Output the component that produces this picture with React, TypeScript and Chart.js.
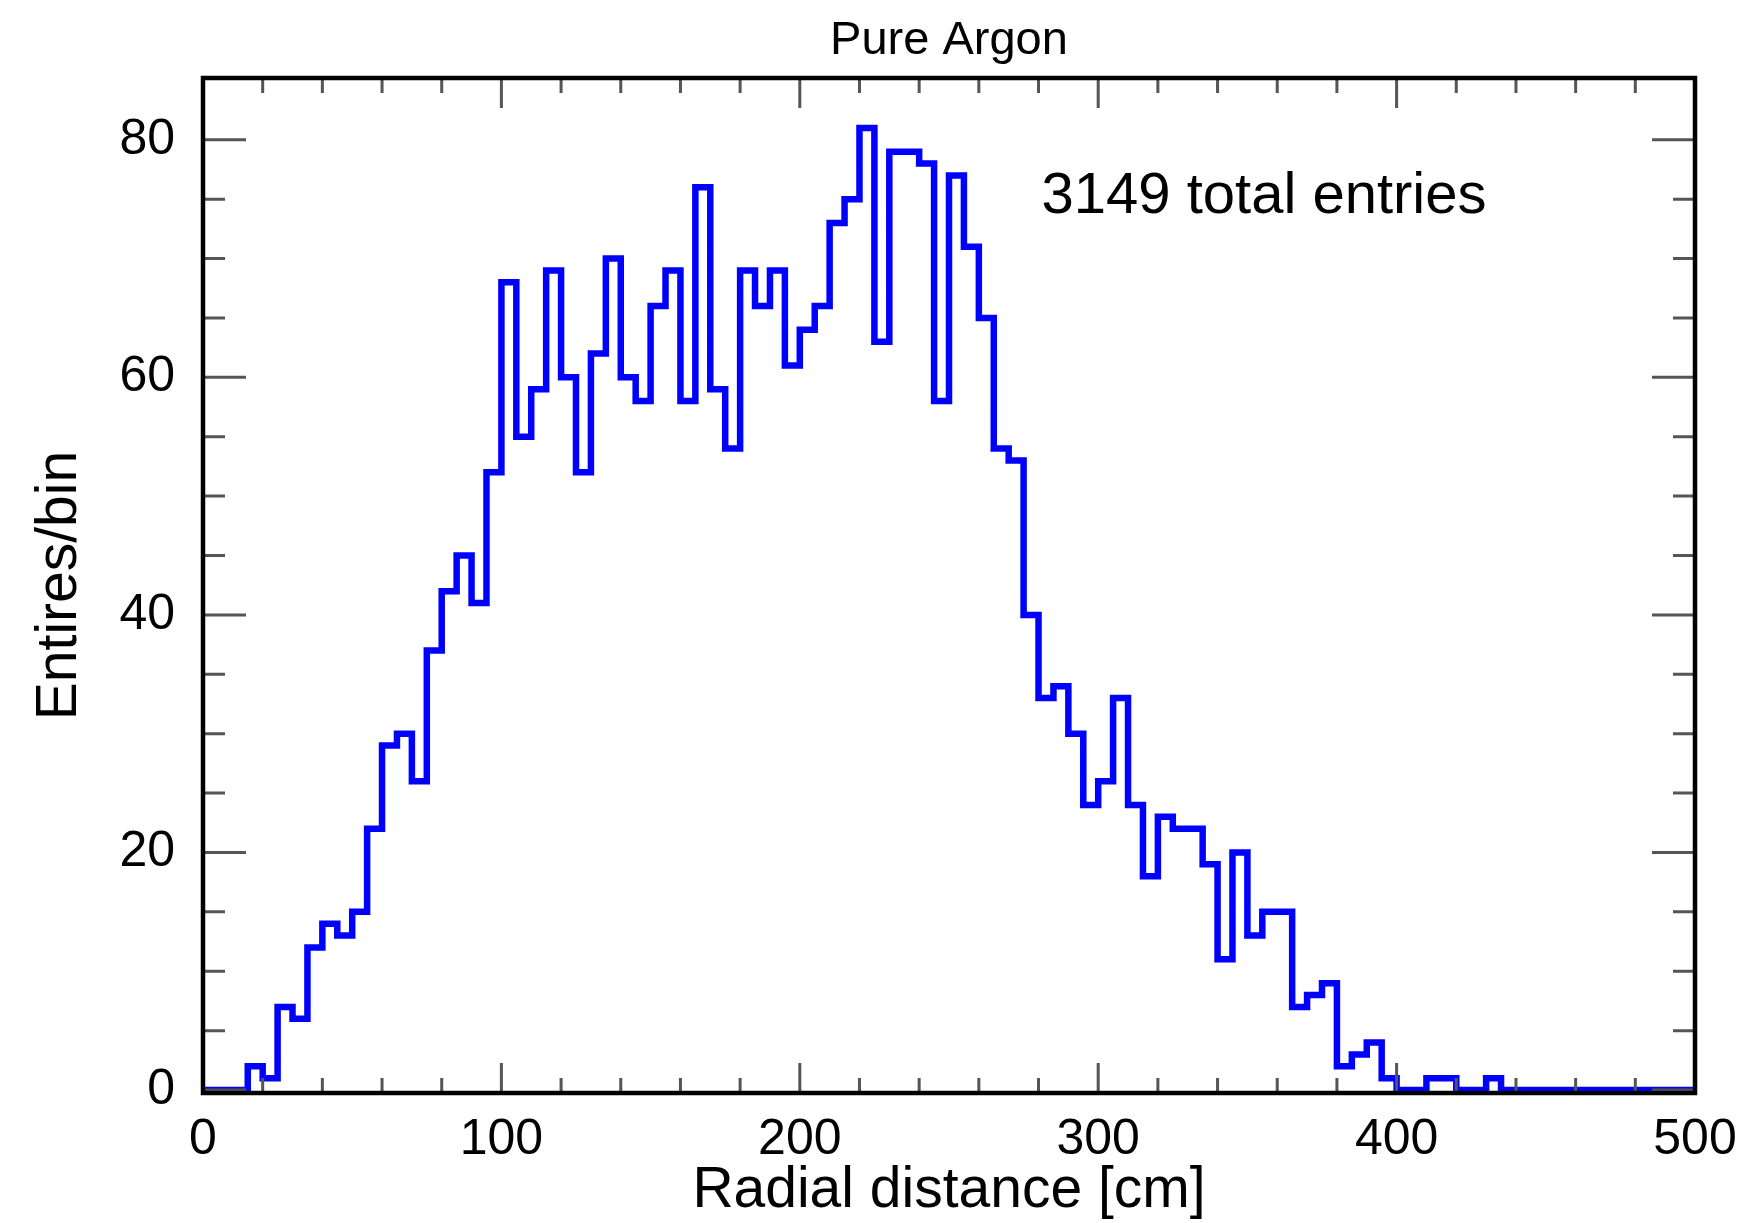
import React, { useEffect, useRef } from 'react';
import { Chart, registerables } from 'chart.js';

Chart.register(...registerables);

const TITLE = 'Pure Argon';
const X_TITLE = 'Radial distance [cm]';
const Y_TITLE = 'Entires/bin';
const ANNOTATION = '3149 total entries';

// Histogram bin edges (cm), 5 cm bins from 0 to 500
const BIN_EDGES = [
  0, 5, 10, 15, 20, 25, 30, 35, 40, 45,
  50, 55, 60, 65, 70, 75, 80, 85, 90, 95,
  100, 105, 110, 115, 120, 125, 130, 135, 140, 145,
  150, 155, 160, 165, 170, 175, 180, 185, 190, 195,
  200, 205, 210, 215, 220, 225, 230, 235, 240, 245,
  250, 255, 260, 265, 270, 275, 280, 285, 290, 295,
  300, 305, 310, 315, 320, 325, 330, 335, 340, 345,
  350, 355, 360, 365, 370, 375, 380, 385, 390, 395,
  400, 405, 410, 415, 420, 425, 430, 435, 440, 445,
  450, 455, 460, 465, 470, 475, 480, 485, 490, 495,
  500,
];

// Entries per bin (sum = 3149)
const COUNTS = [
  0, 0, 0, 2, 1, 7, 6, 12, 14, 13,
  15, 22, 29, 30, 26, 37, 42, 45, 41, 52,
  68, 55, 59, 69, 60, 52, 62, 70, 60, 58,
  66, 69, 58, 76, 59, 54, 69, 66, 69, 61,
  64, 66, 73, 75, 81, 63, 79, 79, 78, 58,
  77, 71, 65, 54, 53, 40, 33, 34, 30, 24,
  26, 33, 24, 18, 23, 22, 22, 19, 11, 20,
  13, 15, 15, 7, 8, 9, 2, 3, 4, 1,
  0, 0, 1, 1, 0, 0, 1, 0, 0, 0,
  0, 0, 0, 0, 0, 0, 0, 0, 0, 0,
];

const X_MAJOR_TICKS = [0, 100, 200, 300, 400, 500];
const X_MINOR_TICKS = [20, 40, 60, 80, 120, 140, 160, 180, 220, 240, 260, 280, 320, 340, 360, 380, 420, 440, 460, 480];
const Y_MAJOR_TICKS = [0, 20, 40, 60, 80];
const Y_MINOR_TICKS = [5, 10, 15, 25, 30, 35, 45, 50, 55, 65, 70, 75];

const FONT = "'Liberation Sans', Arial, Helvetica, sans-serif";
const ANNOT_X = 281;
const ANNOT_Y = 73.85;

const frameTicksPlugin = {
  id: 'frameTicks',
  afterDatasetsDraw(chart: any) {
    const { ctx, chartArea: a, scales } = chart;
    const xs = scales.x;
    const ys = scales.y;
    ctx.save();
    ctx.strokeStyle = '#555555';
    ctx.lineWidth = 3;
    ctx.beginPath();
    const xTick = (v: number, len: number) => {
      const px = xs.getPixelForValue(v);
      ctx.moveTo(px, a.bottom);
      ctx.lineTo(px, a.bottom - len);
      ctx.moveTo(px, a.top);
      ctx.lineTo(px, a.top + len);
    };
    const yTick = (v: number, len: number) => {
      const py = ys.getPixelForValue(v);
      ctx.moveTo(a.left, py);
      ctx.lineTo(a.left + len, py);
      ctx.moveTo(a.right, py);
      ctx.lineTo(a.right - len, py);
    };
    X_MAJOR_TICKS.forEach((v) => xTick(v, 30));
    X_MINOR_TICKS.forEach((v) => xTick(v, 15));
    Y_MAJOR_TICKS.forEach((v) => yTick(v, 43));
    Y_MINOR_TICKS.forEach((v) => yTick(v, 22));
    ctx.stroke();

    ctx.strokeStyle = '#000000';
    ctx.lineWidth = 4.5;
    ctx.strokeRect(a.left, a.top, a.right - a.left, a.bottom - a.top);

    ctx.fillStyle = '#000000';
    ctx.font = `58px ${FONT}`;
    ctx.textAlign = 'left';
    ctx.textBaseline = 'alphabetic';
    ctx.fillText(ANNOTATION, xs.getPixelForValue(ANNOT_X), ys.getPixelForValue(ANNOT_Y));
    ctx.restore();
  },
};

export default function App() {
  const canvasRef = useRef<HTMLCanvasElement | null>(null);

  useEffect(() => {
    if (!canvasRef.current) return;
    const points = COUNTS.map((c, i) => ({ x: BIN_EDGES[i], y: c }));
    points.push({ x: BIN_EDGES[BIN_EDGES.length - 1], y: COUNTS[COUNTS.length - 1] });

    const chart = new Chart(canvasRef.current, {
      type: 'line',
      data: {
        datasets: [
          {
            label: 'Pure Argon',
            data: points,
            borderColor: '#0000ff',
            borderWidth: 6.5,
            stepped: 'before',
            pointRadius: 0,
            fill: false,
            tension: 0,
            borderJoinStyle: 'miter',
            borderCapStyle: 'butt',
          } as any,
        ],
      },
      plugins: [frameTicksPlugin],
      options: {
        animation: false,
        responsive: false,
        devicePixelRatio: 1,
        layout: { padding: { left: 0, right: 47, top: 0, bottom: 0 } },
        plugins: {
          legend: { display: false },
          tooltip: { enabled: false },
          title: {
            display: true,
            text: TITLE,
            fullSize: false,
            color: '#000000',
            font: { family: FONT, size: 47, weight: 'normal', lineHeight: 1 },
            padding: { top: 17.5, bottom: 13.5 },
          },
        },
        scales: {
          x: {
            type: 'linear',
            position: 'bottom',
            min: 0,
            max: 500,
            grid: { display: false, drawTicks: false },
            border: { display: false },
            afterBuildTicks: (s: any) => {
              s.ticks = X_MAJOR_TICKS.map((v) => ({ value: v }));
            },
            afterFit: (s: any) => {
              s.height = 130;
              s.paddingLeft = 0;
              s.paddingRight = 0;
            },
            ticks: {
              color: '#000000',
              font: { family: FONT, size: 50, lineHeight: 1.2 },
              padding: 17,
              autoSkip: false,
              maxRotation: 0,
            },
            title: {
              display: true,
              text: X_TITLE,
              color: '#000000',
              font: { family: FONT, size: 57, lineHeight: 1 },
              padding: { top: 0, bottom: 3.5 },
            },
          },
          y: {
            type: 'linear',
            position: 'left',
            min: -0.25,
            max: 85.2,
            grid: { display: false, drawTicks: false },
            border: { display: false },
            afterBuildTicks: (s: any) => {
              s.ticks = Y_MAJOR_TICKS.map((v) => ({ value: v }));
            },
            afterFit: (s: any) => {
              s.width = 203;
              s.paddingTop = 0;
              s.paddingBottom = 0;
            },
            ticks: {
              color: '#000000',
              font: { family: FONT, size: 50, lineHeight: 1.2 },
              padding: 28,
              autoSkip: false,
            },
            title: {
              display: true,
              text: Y_TITLE,
              color: '#000000',
              font: { family: FONT, size: 57, lineHeight: 1 },
              padding: { top: 32, bottom: 0 },
            },
          },
        },
      } as any,
    });
    return () => chart.destroy();
  }, []);

  return (
    <div style={{ position: 'fixed', left: 0, top: 0, width: 1742, height: 1223, background: '#ffffff' }}>
      <canvas ref={canvasRef} width={1742} height={1223} style={{ display: 'block', width: 1742, height: 1223 }} />
    </div>
  );
}
